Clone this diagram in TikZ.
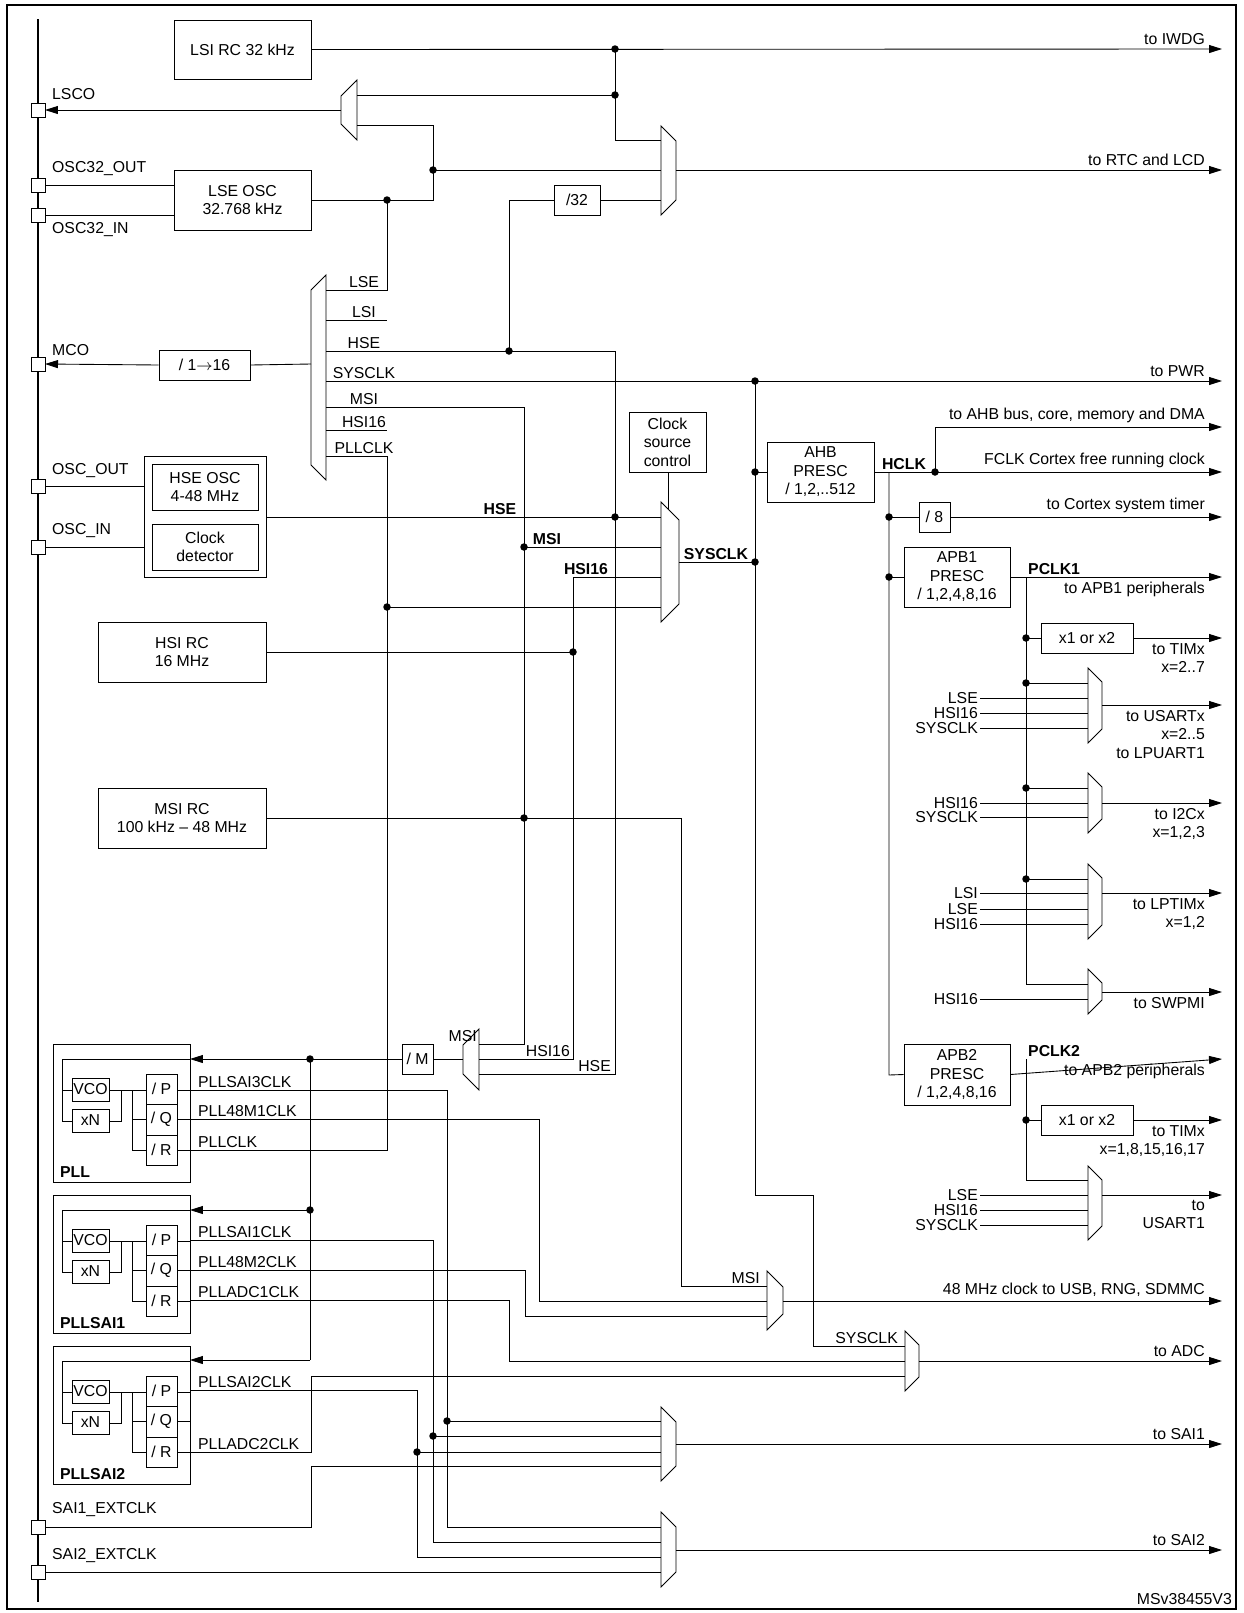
\documentclass[tikz,border=0pt]{standalone}
\usepackage{fontspec}
\setmainfont{Liberation Sans}
\usetikzlibrary{arrows.meta}
\usetikzlibrary{positioning}
\usetikzlibrary{calc}

\tikzset{
  blk/.style={draw, inner sep=0pt, align=center},
  pin/.style={draw, fill=white, inner sep=0pt, minimum size=2.8mm},
  lbl/.style={inner sep=1pt},
  >={Triangle[length=2.6mm,width=1.6mm]}
}
% box from corner to corner (pixel grid)
\newcommand{\blk}[6]{\node[blk, minimum width={(#4-#2)*0.02cm}, minimum height={(#5-#3)*0.02cm}] (#1) at ({(#2+#4)/2},{(#3+#5)/2}) {#6};}
% muxes: x, top, bottom, width
\newcommand{\muxr}[4]{\draw[fill=white] (#1,#2) -- (#1+#4,#2+#4) -- (#1+#4,#3-#4) -- (#1,#3) -- cycle;}
\newcommand{\muxl}[4]{\draw[fill=white] (#1+#4,#2) -- (#1,#2+#4) -- (#1,#3-#4) -- (#1+#4,#3) -- cycle;}
\newcommand{\jn}[2]{\fill (#1,#2) circle (0.75mm);}

\begin{document}
\begin{tikzpicture}[x=0.02cm, y=-0.02cm, line width=0.5pt, font=\fontsize{9}{10.5}\selectfont]
\useasboundingbox (0,0) rectangle (1244,1613);
\draw[line width=0.8pt] (7,5) rectangle (1236,1609);
\draw[line width=1pt] (38,19) -- (38,1602);

% oscillators and dividers
\blk{lsi}{174}{20}{311}{79}{LSI RC 32 kHz}
\blk{lse}{174}{170}{311}{230}{LSE OSC\\32.768 kHz}
\blk{div32}{554}{185}{600}{215}{/32}
\blk{mcodiv}{159}{350}{250}{380}{/ 1$\rightarrow$16}
\blk{hseout}{144}{456}{266}{577}{}
\blk{hse}{152}{464}{258}{510}{HSE OSC\\4-48 MHz}
\blk{css}{152}{524}{258}{570}{Clock\\detector}
\blk{hsi}{98}{622}{266}{682}{HSI RC\\16 MHz}
\blk{msi}{98}{788}{266}{848}{MSI RC\\100 kHz -- 48 MHz}
\blk{csc}{629}{412}{706}{472}{Clock\\source\\control}
\blk{ahb}{767}{442}{874}{502}{AHB\\PRESC\\/ 1,2,..512}
\blk{div8}{919}{502}{950}{532}{/ 8}
\blk{apb1}{904}{547}{1010}{607}{APB1\\PRESC\\/ 1,2,4,8,16}
\blk{tim1x}{1041}{623}{1133}{653}{x1 or x2}
\blk{apb2}{904}{1044}{1010}{1105}{APB2\\PRESC\\/ 1,2,4,8,16}
\blk{tim2x}{1041}{1105}{1133}{1135}{x1 or x2}
\blk{mdiv}{402}{1044}{433}{1074}{/ M}

% muxes
\muxl{341}{80}{140}{16}
\muxr{661}{126}{215}{15}
\muxl{311}{275}{480}{15}
\muxr{661}{502}{622}{18}
\muxl{463}{1029}{1090}{16}
\muxr{1088}{668}{743}{14}
\muxr{1088}{773}{833}{14}
\muxr{1088}{864}{939}{14}
\muxr{1088}{969}{1014}{14}
\muxr{1088}{1166}{1240}{14}
\muxr{767}{1271}{1330}{16}
\muxr{905}{1331}{1391}{14}
\muxr{661}{1407}{1481}{15}
\muxr{661}{1512}{1587}{15}

% low speed part
\draw[->] (lsi.east) -- (1222,49);
\draw (615,49) -- (615,140) -- (661,140);
\draw (615,95) -- (357,95);
\jn{615}{49} \jn{615}{95}
\draw[->] (341,110) -- (45,110);
\draw (357,125) -- (433,125) -- (433,200) -- (lse.east);
\draw (433,170) -- (661,170);
\jn{433}{170} \jn{387}{200}
\draw[->] (676,170) -- (1222,170);
\draw (div32.east) -- (661,200);
\draw (509,351) -- (509,200) -- (div32.west);
\draw (45,185) -- (174,185);
\draw (45,215) -- (174,215);

% MCO
\draw (326,290) -- (387,290) -- (387,200);
\draw (326,320) -- (387,320);
\draw (326,351) -- (615,351) -- (615,1074) -- (479,1074);
\draw[->] (326,381) -- (1222,381);
\draw (326,407) -- (524,407) -- (524,1044) -- (479,1044);
\draw (326,430) -- (387,430);
\draw (326,456) -- (387,456) -- (387,1150) -- (190,1150);
\jn{509}{351} \jn{755}{381}
\foreach \y/\t in {290/LSE, 320/LSI, 351/HSE, 381/SYSCLK, 407/MSI, 430/HSI16, 456/PLLCLK}
  \node[lbl, above] at (364,\y) {\t};
\draw (311,364) -- (mcodiv.east);
\draw[->] (mcodiv.west) -- (45,364);

% system clock mux
\draw (45,486) -- (144,486);
\draw (45,547) -- (144,547);
\draw (266,517) -- (661,517);
\draw (524,547) -- (661,547);
\draw (573,577) -- (661,577);
\draw (573,577) -- (573,1059) -- (479,1059);
\draw (387,607) -- (661,607);
\jn{615}{517} \jn{524}{547} \jn{387}{607}
\node[lbl, above, font=\fontsize{9}{10.5}\selectfont\bfseries] at (500,517) {HSE};
\node[lbl, above, font=\fontsize{9}{10.5}\selectfont\bfseries] at (547,547) {MSI};
\node[lbl, above, font=\fontsize{9}{10.5}\selectfont\bfseries] at (586,577) {HSI16};
\draw (hsi.east) -- (573,652);
\jn{573}{652}
\draw (msi.east) -- (681,818) -- (681,1286) -- (767,1286);
\jn{524}{818}
\node[lbl, above left] at (762,1286) {MSI};
\draw (668,472) -- (668,510);
\draw (679,562) -- (755,562);
\jn{755}{562}
\node[lbl, above, font=\fontsize{9}{10.5}\selectfont\bfseries] at (716,562) {SYSCLK};
\draw (755,381) -- (755,1195) -- (813,1195) -- (813,1346) -- (905,1346);
\node[lbl, above left] at (900,1346) {SYSCLK};

% AHB and APB
\draw (755,472) -- (ahb.west);
\jn{755}{472}
\draw[->] (ahb.east) -- (1222,472);
\node[lbl, above, font=\fontsize{9}{10.5}\selectfont\bfseries] at (904,472) {HCLK};
\draw[->] (935,472) -- (935,427) -- (1222,427);
\jn{935}{472}
\draw (889,472) -- (889,1075) -- (apb2.west);
\draw (889,517) -- (div8.west);
\draw[->] (div8.east) -- (1222,517);
\draw (889,577) -- (apb1.west);
\jn{889}{517} \jn{889}{577}
\draw[->] (apb1.east) -- (1222,577);
\node[lbl, above right, font=\fontsize{9}{10.5}\selectfont\bfseries] at (1026,577) {PCLK1};
\draw (1026,577) -- (1026,984) -- (1088,984);
\draw (1026,638) -- (tim1x.west);
\draw[->] (tim1x.east) -- (1222,638);
\draw (1026,683) -- (1088,683);
\draw (1026,788) -- (1088,788);
\draw (1026,879) -- (1088,879);
\jn{1026}{638} \jn{1026}{683} \jn{1026}{788} \jn{1026}{879}
\draw[->] (1102,705) -- (1222,705);
\draw[->] (1102,803) -- (1222,803);
\draw[->] (1102,893) -- (1222,893);
\draw[->] (1102,992) -- (1222,992);
\draw[->] (apb2.east) -- (1222,1059);
\node[lbl, above right, font=\fontsize{9}{10.5}\selectfont\bfseries] at (1026,1059) {PCLK2};
\draw (1026,1059) -- (1026,1180) -- (1088,1180);
\draw (1026,1120) -- (tim2x.west);
\jn{1026}{1120}
\draw[->] (tim2x.east) -- (1222,1120);
\draw[->] (1102,1195) -- (1222,1195);
\foreach \y/\t in {698/LSE, 713/HSI16, 728/SYSCLK, 803/HSI16, 817/SYSCLK,
    893/LSI, 909/LSE, 924/HSI16, 999/HSI16, 1195/LSE, 1210/HSI16, 1225/SYSCLK}
  {\draw (980,\y) -- (1088,\y); \node[lbl, left] at (980,\y) {\t};}

% PLL blocks
\foreach \dy/\nm in {0/PLL, 151/PLLSAI1, 302/PLLSAI2}
{
\begin{scope}[yshift={-\dy*0.02cm}]
\draw (53,1044) rectangle (190,1182);
\draw (190,1059) -- (62,1059) -- (62,1121) -- (72,1121);
\draw (62,1090) -- (72,1090);
\blk{vco}{72}{1078}{109}{1101}{VCO}
\blk{xn}{72}{1109}{109}{1132}{xN}
\draw (109,1090) -- (146,1090);
\draw (121,1090) -- (121,1121) -- (109,1121);
\draw (132,1090) -- (132,1150) -- (146,1150);
\draw (132,1119) -- (146,1119);
\blk{dp}{146}{1074}{177}{1104}{/ P}
\blk{dq}{146}{1104}{177}{1135}{/ Q}
\blk{dr}{146}{1135}{177}{1165}{/ R}
\draw (177,1090) -- (190,1090);
\draw (177,1119) -- (190,1119);
\draw (177,1150) -- (190,1150);
\node[lbl, anchor=south west, font=\fontsize{9}{10.5}\selectfont\bfseries] at (58,1180) {\nm};
\end{scope}
}
\draw (463,1059) -- (mdiv.east);
\draw[->] (mdiv.west) -- (190,1059);
\draw (310,1059) -- (310,1360);
\draw[->] (310,1210) -- (190,1210);
\draw[->] (310,1360) -- (190,1360);
\jn{310}{1059} \jn{310}{1210}
\node[lbl, above left] at (479,1044) {MSI};
\node[lbl, above left] at (572,1059) {HSI16};
\node[lbl, above left] at (613,1074) {HSE};

\draw (190,1090) -- (447,1090) -- (447,1527) -- (661,1527);
\draw (190,1119) -- (539,1119) -- (539,1301) -- (767,1301);
\draw (190,1240) -- (433,1240) -- (433,1542) -- (661,1542);
\draw (190,1270) -- (525,1270) -- (525,1316) -- (767,1316);
\draw (190,1300) -- (509,1300) -- (509,1361) -- (905,1361);
\draw (190,1390) -- (417,1390) -- (417,1557) -- (661,1557);
\draw (190,1452) -- (311,1452) -- (311,1376) -- (905,1376);
\draw (447,1421) -- (661,1421);
\draw (433,1436) -- (661,1436);
\draw (417,1452) -- (661,1452);
\jn{447}{1421} \jn{433}{1436} \jn{417}{1452}
\draw (45,1527) -- (311,1527) -- (311,1466) -- (661,1466);
\draw (45,1572) -- (661,1572);
\foreach \y/\t in {1090/PLLSAI3CLK, 1119/PLL48M1CLK, 1150/PLLCLK, 1240/PLLSAI1CLK,
    1270/PLL48M2CLK, 1300/PLLADC1CLK, 1390/PLLSAI2CLK, 1452/PLLADC2CLK}
  \node[lbl, anchor=south west] at (196,\y) {\t};
\draw[->] (783,1301) -- (1222,1301);
\draw[->] (919,1361) -- (1222,1361);
\draw[->] (676,1444) -- (1222,1444);
\draw[->] (676,1550) -- (1222,1550);

% outputs
\foreach \y/\t in {49/to IWDG, 170/to RTC and LCD, 381/to PWR, 427/{to AHB bus, core, memory and DMA},
    472/FCLK Cortex free running clock, 517/to Cortex system timer, 1301/{48 MHz clock to USB, RNG, SDMMC},
    1361/to ADC, 1444/to SAI1, 1550/to SAI2}
  \node[lbl, anchor=south east] at (1207,\y-2) {\t};
\foreach \y/\t in {577/to APB1 peripherals, 638/{to TIMx\\x=2..7}, 705/{to USARTx\\x=2..5\\to LPUART1},
    803/{to I2Cx\\x=1,2,3}, 893/{to LPTIMx\\x=1,2}, 992/to SWPMI, 1059/to APB2 peripherals,
    1120/{to TIMx\\x=1,8,15,16,17}, 1195/{to\\USART1}}
  \node[lbl, anchor=north east, align=right] at (1207,\y+3) {\t};
\node[lbl, anchor=south east] at (1234,1607) {MSv38455V3};

% pins
\foreach \y/\t/\ly in {110/LSCO/94, 185/OSC32\_OUT/169, 215/OSC32\_IN/230, 364/MCO/350,
    486/OSC\_OUT/471, 547/OSC\_IN/531, 1527/SAI1\_EXTCLK/1510, 1572/SAI2\_EXTCLK/1556}
  {\node[pin] (p\y) at (38,\y) {}; \node[lbl, anchor=west] at (50,\ly) {\t};}
\end{tikzpicture}
\end{document}
